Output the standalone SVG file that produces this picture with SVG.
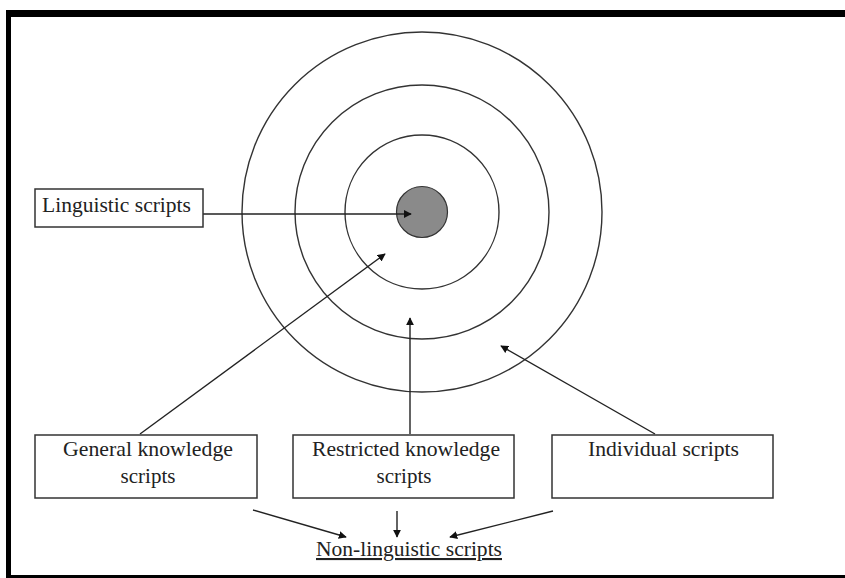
<svg xmlns="http://www.w3.org/2000/svg" width="845" height="578" viewBox="0 0 845 578">
<style>
.box{fill:#fff;stroke:#333;stroke-width:1.5}
.ring{fill:none;stroke:#333;stroke-width:1.4}
.t{font-family:"Liberation Serif","DejaVu Serif","Times New Roman",serif;font-size:21px;fill:#222}
.c{stroke:#222;stroke-width:1.4;fill:none}
</style>
<defs>
<marker id="ah" viewBox="0 0 10 10" refX="9" refY="5" markerWidth="8" markerHeight="8" markerUnits="userSpaceOnUse" orient="auto">
<path d="M0,0 L10,5 L0,10 z" fill="#111"/>
</marker>
</defs>
<rect x="0" y="0" width="845" height="578" fill="#fff"/>
<g id="frame">
<rect x="6" y="10" width="839" height="7" fill="#000"/>
<rect x="6" y="10" width="5" height="568" fill="#000"/>
<rect x="6" y="575" width="839" height="3" fill="#000"/>
</g>
<g id="rings">
<circle class="ring" cx="422" cy="212" r="180"/>
<circle class="ring" cx="422" cy="212" r="127"/>
<circle class="ring" cx="422" cy="212" r="77"/>
</g>
<g id="core">
<circle cx="422" cy="212" r="25.5" fill="#8a8a8a" stroke="#333" stroke-width="1.2"/>
</g>
<g id="connectors">
<line class="c" x1="203" y1="214" x2="411" y2="214" marker-end="url(#ah)"/>
<line class="c" x1="140" y1="434" x2="385" y2="254" marker-end="url(#ah)"/>
<line class="c" x1="410" y1="434" x2="410" y2="318" marker-end="url(#ah)"/>
<line class="c" x1="655" y1="434" x2="501" y2="346" marker-end="url(#ah)"/>
<line class="c" x1="253" y1="510" x2="346" y2="537" marker-end="url(#ah)"/>
<line class="c" x1="397" y1="511" x2="397" y2="537" marker-end="url(#ah)"/>
<line class="c" x1="553" y1="511" x2="450" y2="537" marker-end="url(#ah)"/>
</g>
<g id="linguistic">
<rect class="box" x="35" y="189" width="168" height="38"/>
<text class="t" x="42" y="212" textLength="149" lengthAdjust="spacingAndGlyphs">Linguistic scripts</text>
</g>
<g id="general">
<rect class="box" x="35" y="435" width="222" height="63"/>
<text class="t" x="148" y="456" text-anchor="middle" textLength="170" lengthAdjust="spacingAndGlyphs">General knowledge</text>
<text class="t" x="148" y="483" text-anchor="middle">scripts</text>
</g>
<g id="restricted">
<rect class="box" x="293" y="435" width="221" height="63"/>
<text class="t" x="406" y="456" text-anchor="middle" textLength="188" lengthAdjust="spacingAndGlyphs">Restricted knowledge</text>
<text class="t" x="404" y="483" text-anchor="middle">scripts</text>
</g>
<g id="individual">
<rect class="box" x="552" y="435" width="221" height="63"/>
<text class="t" x="663.5" y="456" text-anchor="middle" textLength="151" lengthAdjust="spacingAndGlyphs">Individual scripts</text>
</g>
<g id="nonlinguistic">
<text class="t" x="409" y="556" text-anchor="middle" textLength="186" lengthAdjust="spacingAndGlyphs" text-decoration="underline">Non-linguistic scripts</text>
</g>
</svg>
